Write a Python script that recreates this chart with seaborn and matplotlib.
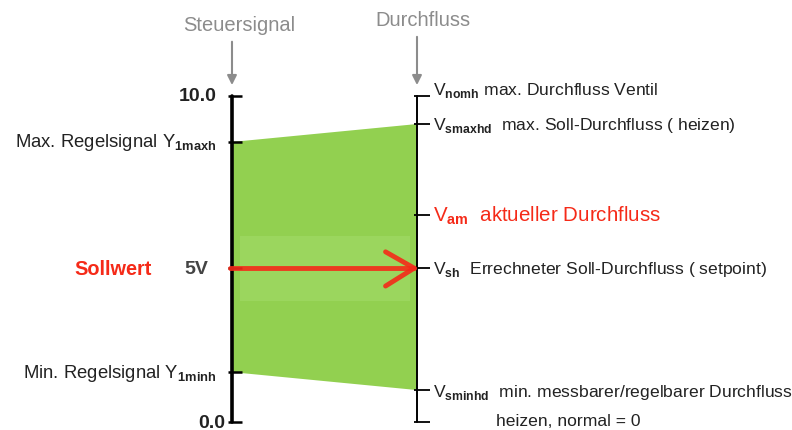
import matplotlib.pyplot as plt
import seaborn as sns
import pandas as pd

sns.set_style("white")
plt.rcParams['font.family'] = ['Liberation Sans', 'DejaVu Sans']
plt.rcParams['mathtext.fontset'] = 'custom'
plt.rcParams['mathtext.rm'] = 'Liberation Sans'
plt.rcParams['mathtext.bf'] = 'Liberation Sans:bold'

# signal scale (0..10 V) on the left, flow scale on the right
scale_min, scale_max = 0.0, 10.0
y_max_signal = 8.59      # Max. Regelsignal Y1maxh
y_min_signal = 1.53      # Min. Regelsignal Y1minh
y_setpoint = 4.72        # 5V / Vsh
y_vsmaxhd = 9.14
y_vam = 6.35
y_vsminhd = 0.98

band_left = [y_min_signal, y_max_signal]
band_right = [y_vsminhd, y_vsmaxhd]

left_ticks = [scale_max, y_max_signal, y_setpoint, y_min_signal, scale_min]
right_ticks = [scale_max, y_vsmaxhd, y_vam, y_setpoint, y_vsminhd, scale_min]

GREEN = "#92d050"
RED = "#f52a18"
GRAY = "#8c8c8c"

fig = plt.figure(figsize=(7.92, 4.31), dpi=100)
ax = fig.add_axes([0, 0, 1, 1])
ax.set_xlim(-1.254, 3.027)
ax.set_ylim(-0.245, 12.975)
ax.axis("off")

# green band between the two scales
ax.fill([0, 1, 1, 0], [band_left[0], band_right[0], band_right[1], band_left[1]],
        color=GREEN, lw=0, zorder=1)
ax.fill([0.043, 0.962, 0.962, 0.043], [3.71, 3.71, 5.71, 5.71],
        color="#9bd65e", lw=0, zorder=1.5)

# the two vertical scales
axes_df = pd.DataFrame({"x": [0, 0, 1, 1], "y": [scale_min, scale_max] * 2,
                        "side": ["l", "l", "r", "r"]})
sns.lineplot(data=axes_df[axes_df.side == "l"], x="x", y="y", color="black",
             lw=2.6, ax=ax, zorder=3, estimator=None, sort=False)
sns.lineplot(data=axes_df[axes_df.side == "r"], x="x", y="y", color="black",
             lw=1.4, ax=ax, zorder=3, estimator=None, sort=False)
ax.hlines(left_ticks, -0.022, 0.052, color="black", lw=1.8, zorder=3)
ax.hlines(right_ticks, 0.985, 1.07, color="black", lw=1.3, zorder=3)

# header arrows
ax.text(0.04, 12.2, "Steuersignal", color=GRAY, fontsize=14.5, ha="center", va="center")
ax.text(1.03, 12.35, "Durchfluss", color=GRAY, fontsize=14.5, ha="center", va="center")
ax.annotate("", xy=(0, 10.25), xytext=(0, 11.75),
            arrowprops=dict(arrowstyle="-|>", color=GRAY, lw=1.5, mutation_scale=14))
ax.annotate("", xy=(1.0, 10.25), xytext=(1.0, 11.9),
            arrowprops=dict(arrowstyle="-|>", color=GRAY, lw=1.5, mutation_scale=14))

# left labels
ax.text(-0.081, scale_max, "10.0", fontsize=14, fontweight="bold", color="#222222",
        ha="right", va="center")
ax.text(-0.038, scale_min, "0.0", fontsize=14, fontweight="bold", color="#222222",
        ha="right", va="center")
ax.text(-0.083, y_max_signal, r"Max. Regelsignal Y$_{\mathbf{1maxh}}$", fontsize=13.3,
        color="#222222", ha="right", va="center")
ax.text(-0.083, y_min_signal, r"Min. Regelsignal Y$_{\mathbf{1minh}}$", fontsize=13.3,
        color="#222222", ha="right", va="center")
ax.text(-0.13, y_setpoint, "5V", fontsize=14, fontweight="bold", color="#444444",
        ha="right", va="center")
ax.text(-0.643, y_setpoint, "Sollwert", fontsize=14.3, fontweight="bold", color=RED,
        ha="center", va="center")

# right labels
xr = 1.086
ax.text(xr, 10.2, r"V$_{\mathbf{nomh}}$ max. Durchfluss Ventil", fontsize=12.6,
        color="#222222", va="center")
ax.text(xr, y_vsmaxhd, r"V$_{\mathbf{smaxhd}}$  max. Soll-Durchfluss ( heizen)", fontsize=12.6,
        color="#222222", va="center")
ax.text(xr, y_vam, r"V$_{\mathbf{am}}$  aktueller Durchfluss", fontsize=14.8, color=RED,
        va="center")
ax.text(xr, y_setpoint, r"V$_{\mathbf{sh}}$  Errechneter Soll-Durchfluss ( setpoint)",
        fontsize=12.6, color="#222222", va="center")
ax.text(xr, y_vsminhd - 0.03, r"V$_{\mathbf{sminhd}}$  min. messbarer/regelbarer Durchfluss",
        fontsize=12.6, color="#222222", va="center")
ax.text(1.427, 0.06, "heizen, normal = 0", fontsize=12.6, color="#222222", va="center")

# red setpoint arrow
ax.plot([-0.01, 0.985], [y_setpoint, y_setpoint], color=RED, lw=3.5, alpha=0.9,
        solid_capstyle="round", zorder=4)
ax.plot([0.83, 0.985, 0.83], [y_setpoint + 0.5, y_setpoint, y_setpoint - 0.55],
        color=RED, lw=3.5, alpha=0.9, solid_capstyle="round", solid_joinstyle="round",
        zorder=4)

fig.savefig("out.png", dpi=100)
